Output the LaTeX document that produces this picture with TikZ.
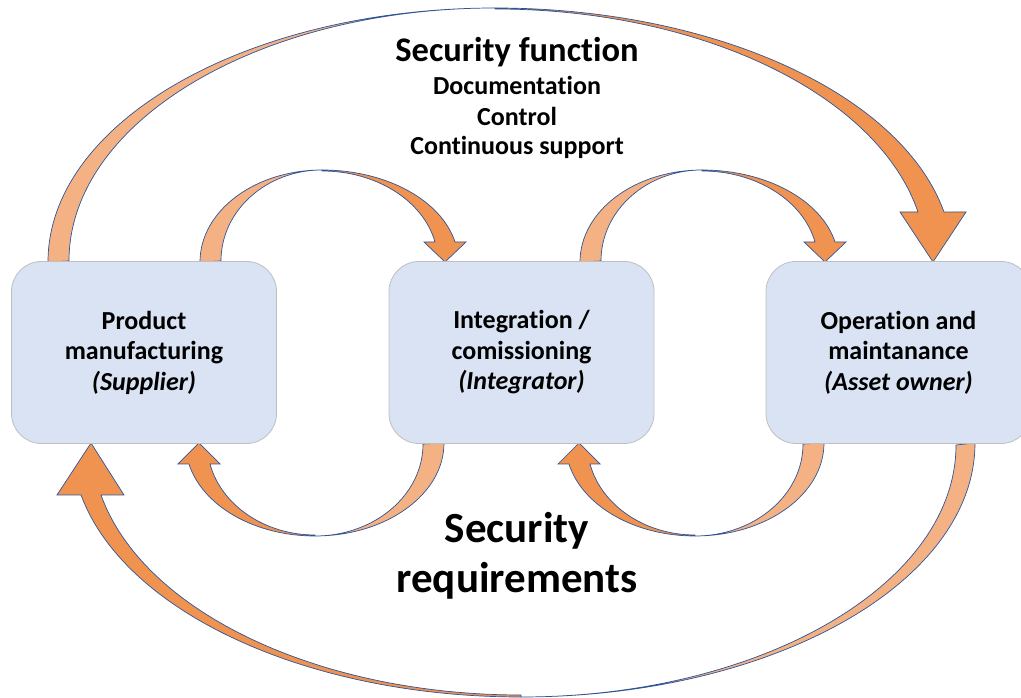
\documentclass[tikz,border=0pt]{standalone}
\usepackage{fontspec}
\setmainfont{Carlito}[Ligatures=NoCommon]
\usetikzlibrary{calc}
\definecolor{boxfill}{HTML}{DAE3F3}
\definecolor{boxline}{HTML}{BFBFBF}
\definecolor{arrlight}{HTML}{F4B183}
\definecolor{arrdark}{HTML}{F09350}
\definecolor{arrline}{HTML}{2F5597}

\begin{document}
\begin{tikzpicture}[x=1pt,y=1pt,
    stage/.style={draw=boxline, line width=0.8pt, fill=boxfill, rounded corners=30pt,
      minimum width=265pt, minimum height=182pt, align=center,
      font=\bfseries\fontsize{26}{30.5}\selectfont},
    item/.style={anchor=base, font=\bfseries\fontsize{26}{30}\selectfont},
    backband/.style={fill=arrlight, draw=arrline, line width=0.7pt},
    frontband/.style={fill=arrdark, draw=arrline, line width=0.7pt}]
  \useasboundingbox (0,0) rectangle (1021,698);
  % arcs over the boxes
  \draw[backband] (48,436) arc[start angle=180, end angle=90, x radius=447, y radius=254]
      arc[start angle=90, end angle=180, x radius=426, y radius=253] -- cycle;
  \draw[frontband] (495,690) arc[start angle=90, end angle=11.35, x radius=458, y radius=254]
      -- (966,486) -- (933,436) -- (900,486) -- (918,486)
      arc[start angle=11.4, end angle=90, x radius=431.5, y radius=253] -- cycle;
  \foreach \dx in {0,380} {
    \begin{scope}[shift={(\dx,0)}]
      \draw[backband] (200,436) arc[start angle=180, end angle=90, x radius=122, y radius=92]
          arc[start angle=90, end angle=180, x radius=101, y radius=91] -- cycle;
      \draw[frontband] (322,528) arc[start angle=90, end angle=12.56, x radius=136.3, y radius=92]
          -- (466,456) -- (445,436) -- (424,456) -- (435,456)
          arc[start angle=12.7, end angle=90, x radius=115.8, y radius=91] -- cycle;
      % arcs under the boxes
      \draw[backband] (444,255) arc[start angle=0, end angle=-90, x radius=129, y radius=93]
          arc[start angle=-90, end angle=0, x radius=108, y radius=92] -- cycle;
      \draw[frontband] (315,162) arc[start angle=270, end angle=193.05, x radius=129.4, y radius=93]
          -- (178,234) -- (199,255) -- (220,234) -- (210,234)
          arc[start angle=193.2, end angle=270, x radius=107.8, y radius=92] -- cycle;
    \end{scope}
  }
  \draw[backband] (975,255) arc[start angle=0, end angle=-90, x radius=454, y radius=254]
      arc[start angle=-90, end angle=0, x radius=435, y radius=252] -- cycle;
  \draw[frontband] (521,1) arc[start angle=270, end angle=191.81, x radius=449.5, y radius=254]
      -- (57,203) -- (91,255) -- (124,203) -- (101,203)
      arc[start angle=191.91, end angle=270, x radius=429.2, y radius=252] -- cycle;
  % stages
  \node[stage] (supplier) at (144,345.5) {Product\\manufacturing\\\textit{(Supplier)}};
  \node[stage] (integrator) at (521.5,345.5) {Integration /\\comissioning\\\textit{(Integrator)}};
  \node[stage] (owner) at (898.5,345.5) {Operation and\\maintanance\\\textit{(Asset owner)}};
  % labels
  \node[item, font=\bfseries\fontsize{34.5}{40}\selectfont] (secfun) at (517,636) {Security function};
  \node[item] (doc) at (517,603) {Documentation};
  \node[item] (ctrl) at (517,572) {Control};
  \node[item] (supp) at (517,543) {Continuous support};
  \node[item, font=\bfseries\fontsize{43}{50}\selectfont] (secreq) at (517,155) {Security};
  \node[item, font=\bfseries\fontsize{43}{50}\selectfont] (req) at (517,105) {requirements};
\end{tikzpicture}
\end{document}
